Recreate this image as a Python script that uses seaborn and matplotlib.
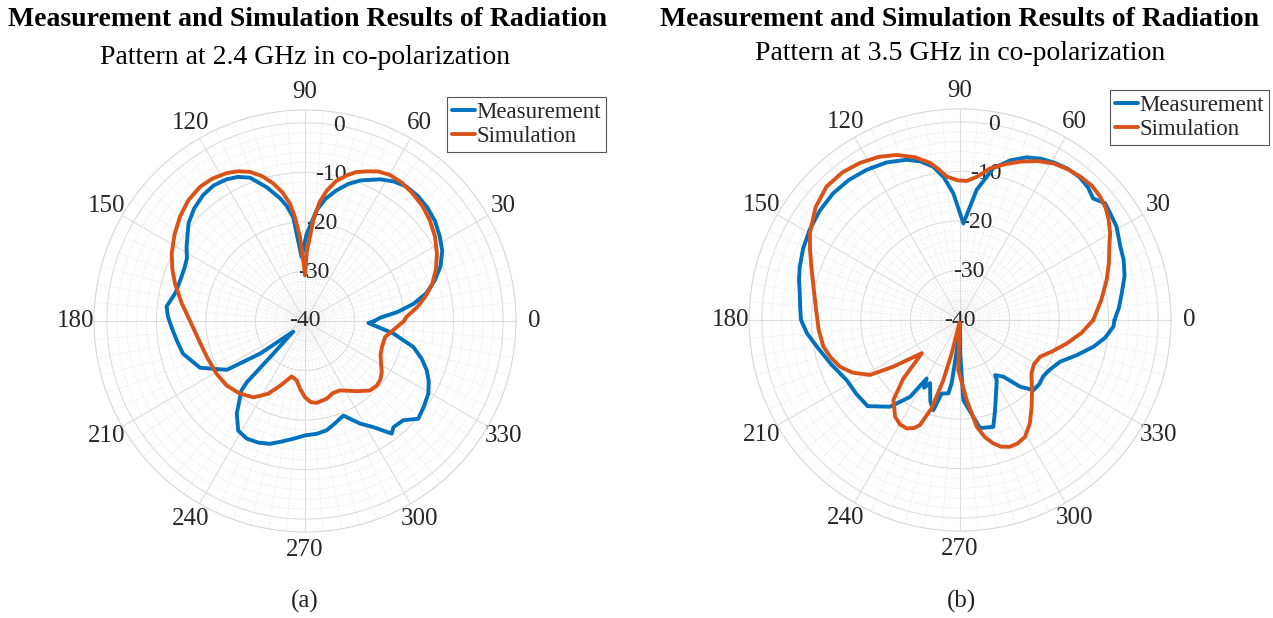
import numpy as np
import pandas as pd
import matplotlib
matplotlib.use("Agg")
import matplotlib.pyplot as plt
from matplotlib.lines import Line2D
import seaborn as sns

# ---------------- data (angle in degrees, gain in dB) ----------------
a_meas_ang = [0, 2.5, 5.5, 9, 13, 17.5, 22, 27, 32, 37.5, 43, 48, 53, 57.5, 62, 68.5,
              72.5, 76.5, 80.5, 84, 89, 93, 96.5, 99, 101.5, 106, 111, 115, 119, 124,
              129, 134.5, 140, 148, 152, 156, 162, 168, 174, 178, 182.5, 188.5, 195,
              204, 212, 216, 222, 226, 226.5, 227.5, 233.6, 238.6, 243.6, 249, 254,
              259, 264.3, 270, 275.9, 281.2, 286.5, 292.1, 298.2, 302.8, 307.6,
              309.8, 314.7, 319.2, 324, 329.5, 334, 338, 342, 346.5, 352, 358.2, 360]
a_meas_db = [-26.0, -24.8, -21.3, -17.8, -14.8, -12.5, -10.5, -8.9, -7.9, -6.9, -6.3,
             -6.0, -6.0, -6.6, -7.6, -9.5, -11.0, -12.9, -15.0, -17.5, -22.5, -27.1,
             -18.9, -16.5, -14.7, -11.9, -9.0, -7.9, -7.3, -7.0, -7.3, -8.1, -9.3,
             -11.8, -13.0, -13.4, -13.5, -13.2, -11.9, -12.3, -13.0, -13.8, -14.5,
             -16.8, -21.4, -28.8, -36.8, -30.0, -23.0, -21.0, -16.8, -14.1, -13.5,
             -13.7, -14.2, -15.2, -16.1, -16.9, -17.1, -17.5, -18.5, -19.4, -16.5,
             -14.5, -11.3, -12.1, -11.8, -9.8, -10.4, -11.1, -12.2, -13.5, -15.2,
             -17.5, -22.0, -27.2, -26.0]

a_sim_ang = [0, 2.3, 7, 11.5, 16, 21.5, 27, 33, 39, 44.5, 50, 55, 60, 64, 67.5, 71, 74,
             77.5, 80.5, 83, 85.3, 88.5, 90, 91, 93.4, 95.5, 97.3, 100, 103, 106.5,
             110.3, 114, 118, 123, 128, 134, 140, 146.5, 153, 158.5, 164, 172, 180,
             190, 200, 210.8, 219.4, 228, 236, 243, 249, 256.5, 262, 266, 270, 274,
             278, 285.6, 291, 296.8, 306.4, 313, 318, 322, 326.5, 330.7, 336, 341.3,
             348.7, 356.3, 360]
a_sim_db = [-20.0, -19.5, -17.2, -15.2, -13.3, -11.6, -10.1, -8.7, -7.6, -6.8, -6.3,
            -5.9, -5.9, -6.4, -7.3, -8.2, -9.4, -11.1, -13.3, -15.8, -19.6, -26.0,
            -30.8, -29.0, -23.0, -19.0, -16.1, -13.6, -11.5, -9.5, -7.9, -6.9, -6.2,
            -5.7, -5.6, -6.1, -7.1, -8.4, -9.8, -11.2, -12.7, -14.9, -16.8, -18.2,
            -18.9, -19.2, -19.5, -20.3, -21.4, -23.5, -26.0, -28.5, -27.9, -26.2,
            -24.6, -23.6, -23.3, -23.7, -24.4, -24.3, -22.4, -20.8, -20.5, -20.7,
            -21.4, -22.4, -23.3, -23.6, -23.5, -21.4, -20.0]

b_meas_ang = [0, 4.5, 9.4, 15, 20.2, 24.6, 30.8, 35.4, 38.8, 42.4, 46, 50, 54.5, 59.3,
              63.5, 67.7, 72.5, 77.6, 82.7, 88, 93, 96.5, 99.9, 104, 108.4, 115, 121.9,
              128.5, 135, 142, 149, 155.5, 161.6, 166, 170.5, 175, 180, 185, 190.5,
              199, 208, 215.5, 223, 231.1, 237, 240.3, 242, 244.6, 250, 253.5, 256,
              261, 262.5, 264, 269.5, 270.5, 272.4, 280.5, 287.3, 291.3, 301.5, 302.5,
              307.4, 312, 316.3, 321, 325.8, 331, 337.4, 343, 348.7, 353, 357.5, 360]
b_meas_db = [-8.8, -7.8, -6.9, -5.6, -4.8, -4.4, -3.2, -2.8, -2.4, -3.6, -2.8, -2.4,
             -2.5, -3.0, -3.6, -4.5, -6.2, -8.6, -13.5, -20.5, -14.4, -11.0, -8.6,
             -7.0, -5.9, -4.9, -4.3, -3.9, -3.8, -4.1, -4.6, -5.2, -5.9, -6.5, -7.2,
             -7.6, -7.9, -9.0, -10.6, -12.5, -14.1, -14.3, -14.5, -17.5, -21.5, -26.4,
             -24.5, -25.9, -22.5, -21.0, -24.7, -25.0, -27.1, -33.9, -39.0, -33.0,
             -23.8, -17.8, -17.4, -20.5, -25.8, -26.8, -25.6, -21.9, -19.5, -19.4,
             -19.7, -19.3, -18.1, -15.5, -12.5, -10.5, -9.0, -8.8]

b_sim_ang = [0, 8, 15.3, 21, 26.2, 30, 34, 37.5, 41.4, 45.5, 50, 54.5, 59.2, 64, 69.2,
             74, 78.8, 83, 87.3, 91, 95.3, 98, 100.8, 105.5, 111, 116.5, 122.5, 128.5,
             135, 142, 150, 155, 160.2, 168, 177.3, 184, 191, 196, 201.3, 206, 211.4,
             215, 221, 226, 230.2, 236.1, 240, 243.8, 247, 249.1, 252.2, 254.5, 256,
             262, 268, 274.8, 278.9, 282, 285.1, 288, 291.5, 295, 299.1, 304, 309.6,
             316, 323.3, 329, 335.4, 341, 347.7, 354, 360]
b_sim_db = [-13.1, -11.2, -9.3, -7.8, -6.4, -5.0, -3.8, -2.9, -2.3, -2.0, -2.2, -2.6,
            -3.2, -4.3, -5.8, -7.3, -8.8, -10.8, -11.9, -11.8, -10.9, -9.3, -7.7,
            -5.9, -4.3, -3.2, -2.4, -1.9, -1.9, -3.0, -5.0, -6.6, -8.1, -9.8, -11.0,
            -11.4, -11.9, -12.8, -14.0, -15.8, -18.7, -23.6, -29.8, -23.5, -19.0,
            -16.5, -15.7, -15.6, -16.3, -17.3, -21.3, -27.4, -33.1, -39.5, -29.9,
            -23.8, -18.2, -15.8, -14.2, -13.1, -12.5, -12.5, -13.0, -14.8, -17.3,
            -19.8, -22.0, -22.6, -22.2, -20.4, -17.9, -15.3, -13.1]

theta_ticks = [0, 30, 60, 90, 120, 150, 180, 210, 240, 270, 300, 330]
r_ticks = [-40, -30, -20, -10, 0]
series_names = ["Measurement", "Simulation"]
titles = [("Measurement and Simulation Results of Radiation",
           "Pattern at 2.4 GHz in co-polarization"),
          ("Measurement and Simulation Results of Radiation",
           "Pattern at 3.5 GHz in co-polarization")]
captions = ["(a)", "(b)"]

# ---------------- style ----------------
sns.set_theme(style="white")
plt.rcParams["font.family"] = ["Liberation Serif", "DejaVu Serif"]
palette = {"Measurement": "#0072BD", "Simulation": "#D95319"}
RMIN, RMAX = -40, 2.6
W, H = 1273, 618

fig = plt.figure(figsize=(W / 100, H / 100), dpi=100)
fig.patch.set_facecolor("white")


def make_panel(cx, cy, rad, meas_ang, meas_db, sim_ang, sim_db):
    rect = [(cx - rad) / W, (H - cy - rad) / H, 2 * rad / W, 2 * rad / H]
    ax = fig.add_axes(rect, projection="polar")
    df = pd.concat([
        pd.DataFrame({"theta": np.deg2rad(meas_ang), "dB": meas_db,
                      "series": series_names[0]}),
        pd.DataFrame({"theta": np.deg2rad(sim_ang), "dB": sim_db,
                      "series": series_names[1]}),
    ], ignore_index=True)
    sns.lineplot(data=df, x="theta", y="dB", hue="series", palette=palette,
                 sort=False, estimator=None, lw=2.8, ax=ax, legend=False,
                 zorder=3)
    for ln in ax.get_lines():
        ln.set_solid_joinstyle("round")
        ln.set_solid_capstyle("round")
    ax.set_xlabel("")
    ax.set_ylabel("")
    ax.set_ylim(RMIN, RMAX)
    ax.set_xticks(np.deg2rad(theta_ticks))
    ax.set_xticklabels([str(t) for t in theta_ticks])
    ax.set_xticks(np.deg2rad(np.arange(0, 360, 5)), minor=True)
    ax.set_yticks(r_ticks)
    ax.set_yticklabels([])
    ax.set_yticks(np.arange(-40, 1, 2), minor=True)
    ax.grid(which="major", color="#dddddd", lw=0.8, ls="-")
    ax.grid(which="minor", color="#e4e4e4", lw=0.7, ls=":")
    ax.spines["polar"].set_color("#d6d6d6")
    ax.spines["polar"].set_linewidth(0.8)
    ax.tick_params(axis="x", which="major", pad=6, labelsize=18, length=0,
                   colors="#262626")
    ax.tick_params(axis="both", which="minor", length=0)
    ax.tick_params(axis="y", which="major", length=0)
    for v in r_ticks:
        ax.text(np.deg2rad(80), v, str(v), ha="center", va="center",
                fontsize=17, color="#262626", zorder=2)
    return ax


axA = make_panel(305, 321, 211, a_meas_ang, a_meas_db, a_sim_ang, a_sim_db)
axB = make_panel(960, 320, 211, b_meas_ang, b_meas_db, b_sim_ang, b_sim_db)

handles = [Line2D([], [], color=palette[n], lw=2.8) for n in series_names]
for (lx, ly) in [(447, 97), (1110, 90)]:
    leg = fig.legend(handles, series_names, loc="upper left",
                     bbox_to_anchor=(lx / W, 1 - ly / H), frameon=True,
                     fancybox=False, edgecolor="#555555", framealpha=1,
                     borderpad=0.2, handlelength=1.0, handletextpad=0.1,
                     labelspacing=0.15, fontsize=16.5, borderaxespad=0)
    leg.get_frame().set_linewidth(0.8)

# titles
fig.text(308 / W, 1 - 20 / H, titles[0][0], ha="center", va="center",
         fontsize=20, fontweight="bold", color="black")
fig.text(305 / W, 1 - 57 / H, titles[0][1], ha="center", va="center",
         fontsize=20, color="black")
fig.text(960 / W, 1 - 19 / H, titles[1][0], ha="center", va="center",
         fontsize=20, fontweight="bold", color="black")
fig.text(960 / W, 1 - 54 / H, titles[1][1], ha="center", va="center",
         fontsize=20, color="black")

fig.text(305 / W, 1 - 601 / H, captions[0], ha="center", va="center",
         fontsize=18, color="#222222")
fig.text(962 / W, 1 - 601 / H, captions[1], ha="center", va="center",
         fontsize=18, color="#222222")

fig.savefig("out.png", dpi=100, facecolor="white")
